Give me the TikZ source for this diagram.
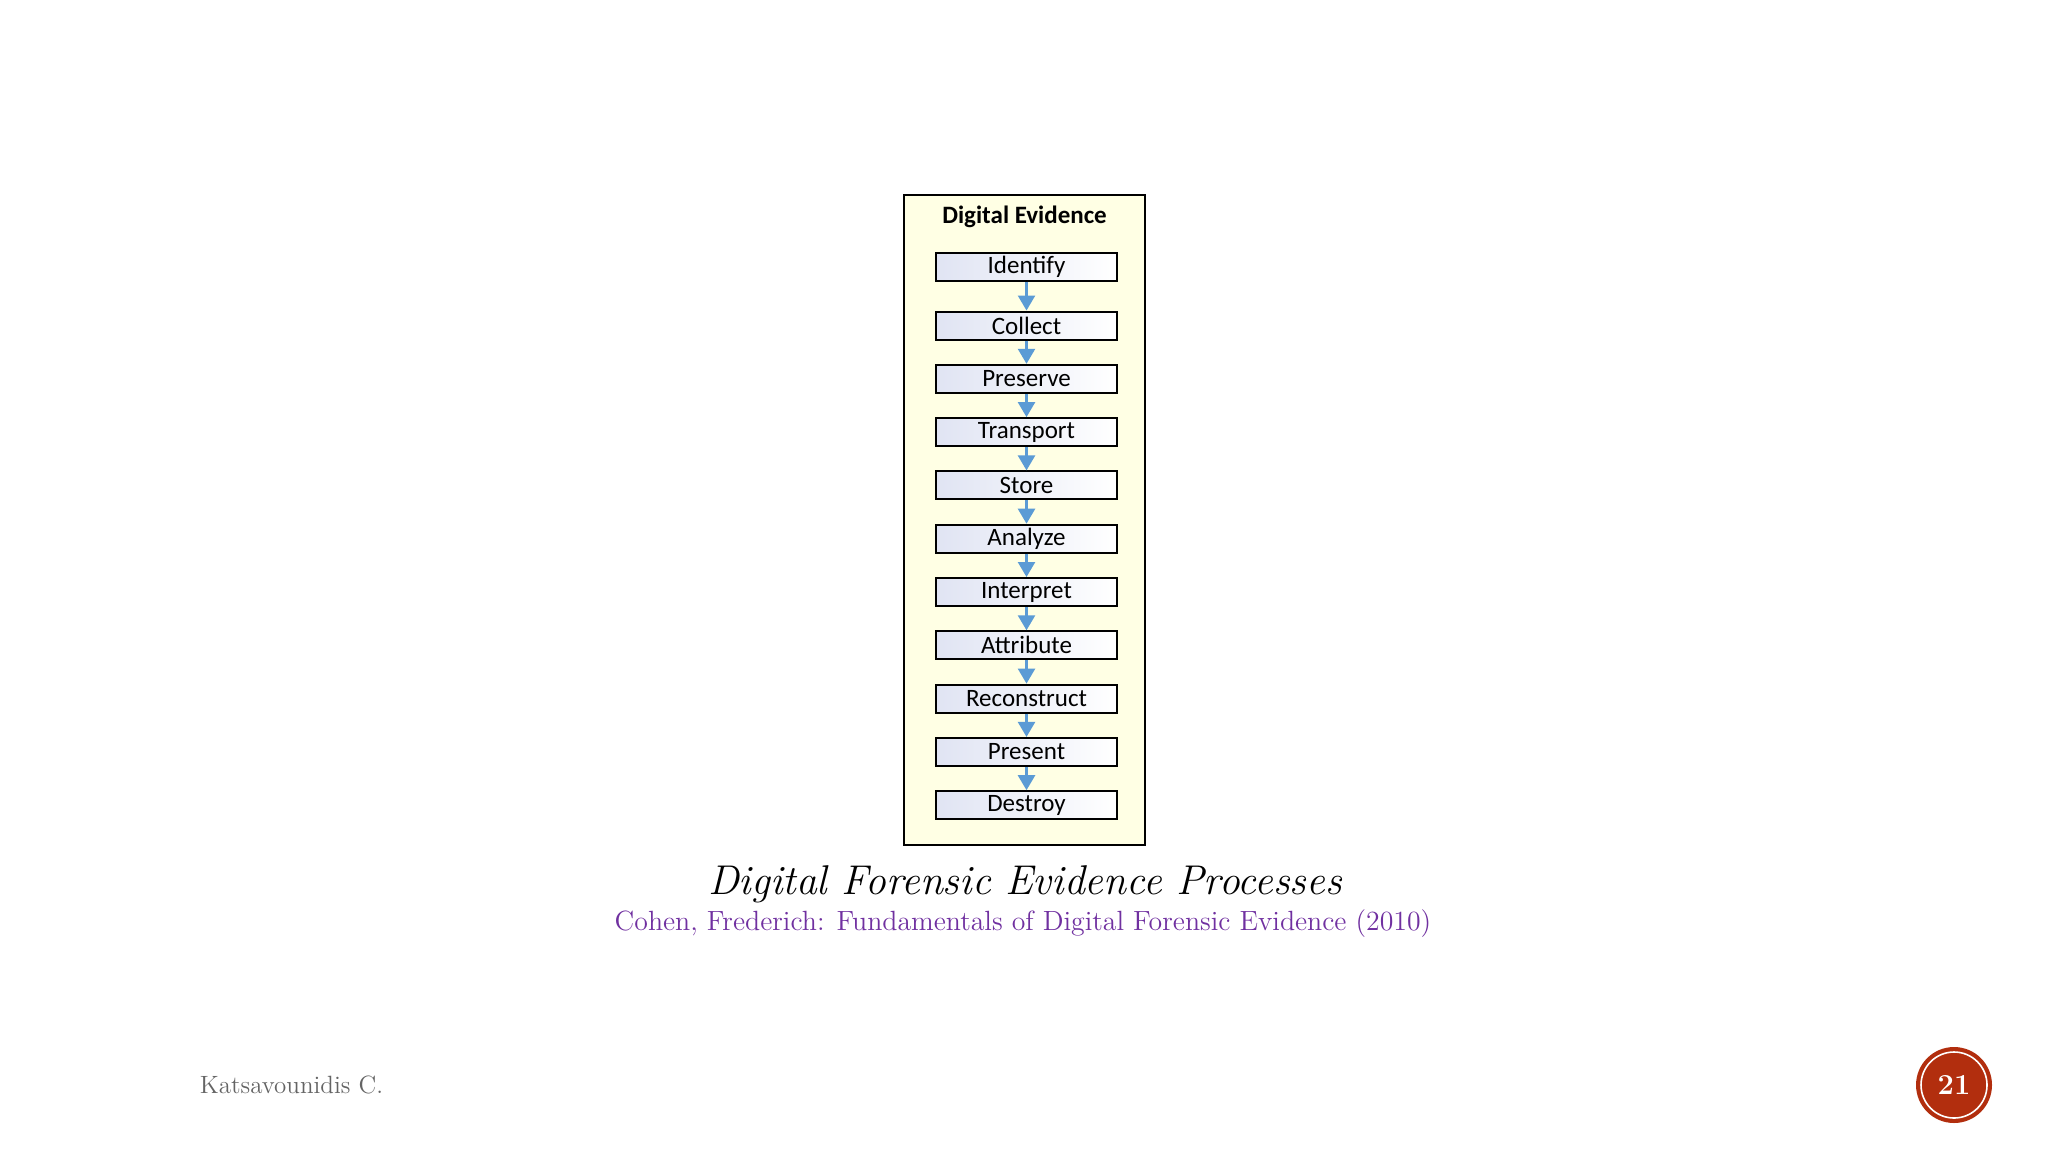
\documentclass[tikz,border=0pt]{standalone}
\usepackage{fontspec}
\usepackage{xcolor}
\usetikzlibrary{positioning,arrows.meta}
\newfontfamily\carlito{Carlito}
\definecolor{framefill}{RGB}{255,255,228}
\definecolor{stepleft}{RGB}{224,228,243}
\definecolor{flowblue}{RGB}{91,155,213}
\definecolor{citepurple}{RGB}{112,48,160}
\definecolor{footgray}{RGB}{100,100,100}
\definecolor{pagered}{RGB}{178,46,14}
\tikzset{
  stepbox/.style={draw=black,line width=1pt,minimum width=90.5pt,minimum height=14pt,inner sep=0pt,
    left color=stepleft,right color=white,text=black,font=\carlito\fontsize{12.5}{15}\selectfont},
  flow/.style={draw=flowblue,line width=1.2pt,-{Triangle[width=8.5pt,length=7.5pt]}},
}

\begin{document}
\begin{tikzpicture}[x=0.5pt,y=-0.5pt,every node/.style={on grid,node distance=26.65pt}]
    \useasboundingbox (0,0) rectangle (2048,1152);
    \draw[fill=framefill,line width=1pt] (904,195) rectangle (1145,845);
    \node[font=\carlito\bfseries\fontsize{12.5}{15}\selectfont] (title) at (1024.5,217) {Digital Evidence};
    \node[stepbox] (identify) at (1026.5,266.5) {Identify};
    \node[stepbox,node distance=29.5pt,below of=identify] (collect) {Collect};
    \node[stepbox,below of=collect] (preserve) {Preserve};
    \node[stepbox,below of=preserve] (transport) {Transport};
    \node[stepbox,below of=transport] (store) {Store};
    \node[stepbox,below of=store] (analyze) {Analyze};
    \node[stepbox,below of=analyze] (interpret) {Interpret};
    \node[stepbox,below of=interpret] (attribute) {Attribute};
    \node[stepbox,below of=attribute] (reconstruct) {Reconstruct};
    \node[stepbox,below of=reconstruct] (present) {Present};
    \node[stepbox,below of=present] (destroy) {Destroy};
    \draw[flow] (identify) -- (collect);
    \draw[flow] (collect) -- (preserve);
    \draw[flow] (preserve) -- (transport);
    \draw[flow] (transport) -- (store);
    \draw[flow] (store) -- (analyze);
    \draw[flow] (analyze) -- (interpret);
    \draw[flow] (interpret) -- (attribute);
    \draw[flow] (attribute) -- (reconstruct);
    \draw[flow] (reconstruct) -- (present);
    \draw[flow] (present) -- (destroy);
    % caption and source
    \node[font=\itshape\fontsize{20.8}{24}\selectfont] (caption) at (1025,884) {Digital Forensic Evidence Processes};
    \node[text=citepurple,font=\fontsize{13.9}{16}\selectfont] (source) at (1023,923.5) {Cohen, Frederich: Fundamentals of Digital Forensic Evidence (2010)};
    % footer
    \node[text=footgray,font=\fontsize{12.5}{15}\selectfont] (author) at (291.5,1085) {Katsavounidis C.};
    \fill[pagered] (1954,1085) circle[radius=19pt];
    \draw[white,line width=0.8pt] (1954,1085) circle[radius=16.5pt];
    \node[text=white,font=\bfseries\fontsize{14.5}{17}\selectfont] (page) at (1954,1085) {21};
\end{tikzpicture}
\end{document}
